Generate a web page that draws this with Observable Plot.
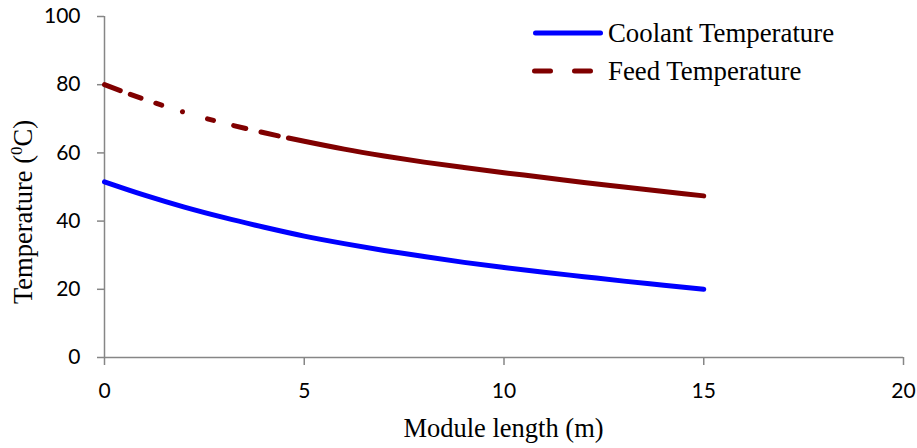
<!DOCTYPE html>
<html><head><meta charset="utf-8">
<script src="https://cdn.jsdelivr.net/npm/d3@7"></script>
<script src="https://cdn.jsdelivr.net/npm/@observablehq/plot@0.6"></script>
<style>
body{margin:0;background:#fff}
#chart{position:relative;width:917px;height:448px}
</style>
</head><body><div id="chart"></div>
<script>
const moduleLength = [0,1,2,3,4,5,6,7,8,9,10,11,12,13,14,15];
const coolantTemp = [51.5,47.6,44.1,41.0,38.2,35.6,33.4,31.4,29.6,27.9,26.4,25.0,23.7,22.4,21.2,20.0];
const feedTemp = [80.0,75.7,71.9,68.7,65.9,63.4,61.1,59.1,57.3,55.7,54.2,52.8,51.3,50.0,48.7,47.4];
const xTicks = [0,5,10,15,20];
const yTicks = [0,20,40,60,80,100];
const seriesNames = ["Coolant Temperature","Feed Temperature"];
const seriesColors = ["#0000FF","#800000"];
const xTitle = "Module length (m)";

const coolantRows = moduleLength.map((x,i)=>({x, t: coolantTemp[i]}));
const feedRows = moduleLength.map((x,i)=>({x, t: feedTemp[i]}));

const axisColor = "#868686";
const feedDash = "16.8,10.7,11.4,15.6,6.2,21.8,0.01,26,6.2,20.8,12.5,15.6,17.7,10.4,5000,0";

const plot = Plot.plot({
  width: 917, height: 448,
  marginLeft: 104, marginRight: 14, marginTop: 16, marginBottom: 91,
  x: {domain: [0,20]},
  y: {domain: [0,100]},
  style: {fontFamily: "Lato", fontSize: "21px", color: "#000", background: "#fff", overflow: "visible"},
  marks: [
    Plot.axisY({ticks: yTicks, tickSize: 7, tickPadding: 17, stroke: axisColor, strokeWidth: 1.5, label: null}),
    Plot.axisX({ticks: xTicks, tickSize: 8, tickPadding: 18, stroke: axisColor, strokeWidth: 1.5, label: null}),
    Plot.ruleX([0], {stroke: axisColor, strokeWidth: 1.5}),
    Plot.ruleY([0], {stroke: axisColor, strokeWidth: 1.5}),
    Plot.line(coolantRows, {x: "x", y: "t", stroke: seriesColors[0], strokeWidth: 5, curve: "monotone-x", strokeLinecap: "round"}),
    Plot.line(feedRows, {x: "x", y: "t", stroke: seriesColors[1], strokeWidth: 5, curve: "monotone-x", strokeLinecap: "round", strokeDasharray: feedDash})
  ]
});
document.getElementById("chart").appendChild(plot);

const svg = d3.select(plot);
const serif = "'Liberation Serif','Times New Roman',serif";
// x title
svg.append("text").attr("x", 503.5).attr("y", 437).attr("text-anchor","middle")
  .attr("font-family", serif).attr("font-size", 26.5).attr("fill","#000").text(xTitle);
// y title
const yt = svg.append("text").attr("transform","translate(32,212) rotate(-90)").attr("text-anchor","middle")
  .attr("font-family", serif).attr("font-size", 26.5).attr("fill","#000");
yt.append("tspan").text("Temperature (");
yt.append("tspan").attr("font-size", 17).attr("dy", -10).text("0");
yt.append("tspan").attr("dy", 10).text("C)");
// legend
const lg = svg.append("g").attr("text-anchor","start");
lg.append("line").attr("x1",535.5).attr("x2",600.5).attr("y1",33).attr("y2",33)
  .attr("stroke",seriesColors[0]).attr("stroke-width",5).attr("stroke-linecap","round");
lg.append("line").attr("x1",534.5).attr("x2",600.5).attr("y1",71).attr("y2",71)
  .attr("stroke",seriesColors[1]).attr("stroke-width",5).attr("stroke-linecap","round").attr("stroke-dasharray","16,24");
lg.append("text").attr("x",608).attr("y",42).attr("text-anchor","start").attr("font-family",serif).attr("font-size",26.8).attr("fill","#000").text(seriesNames[0]);
lg.append("text").attr("x",608).attr("y",80).attr("text-anchor","start").attr("font-family",serif).attr("font-size",26.8).attr("fill","#000").text(seriesNames[1]);
</script>
</body></html>
